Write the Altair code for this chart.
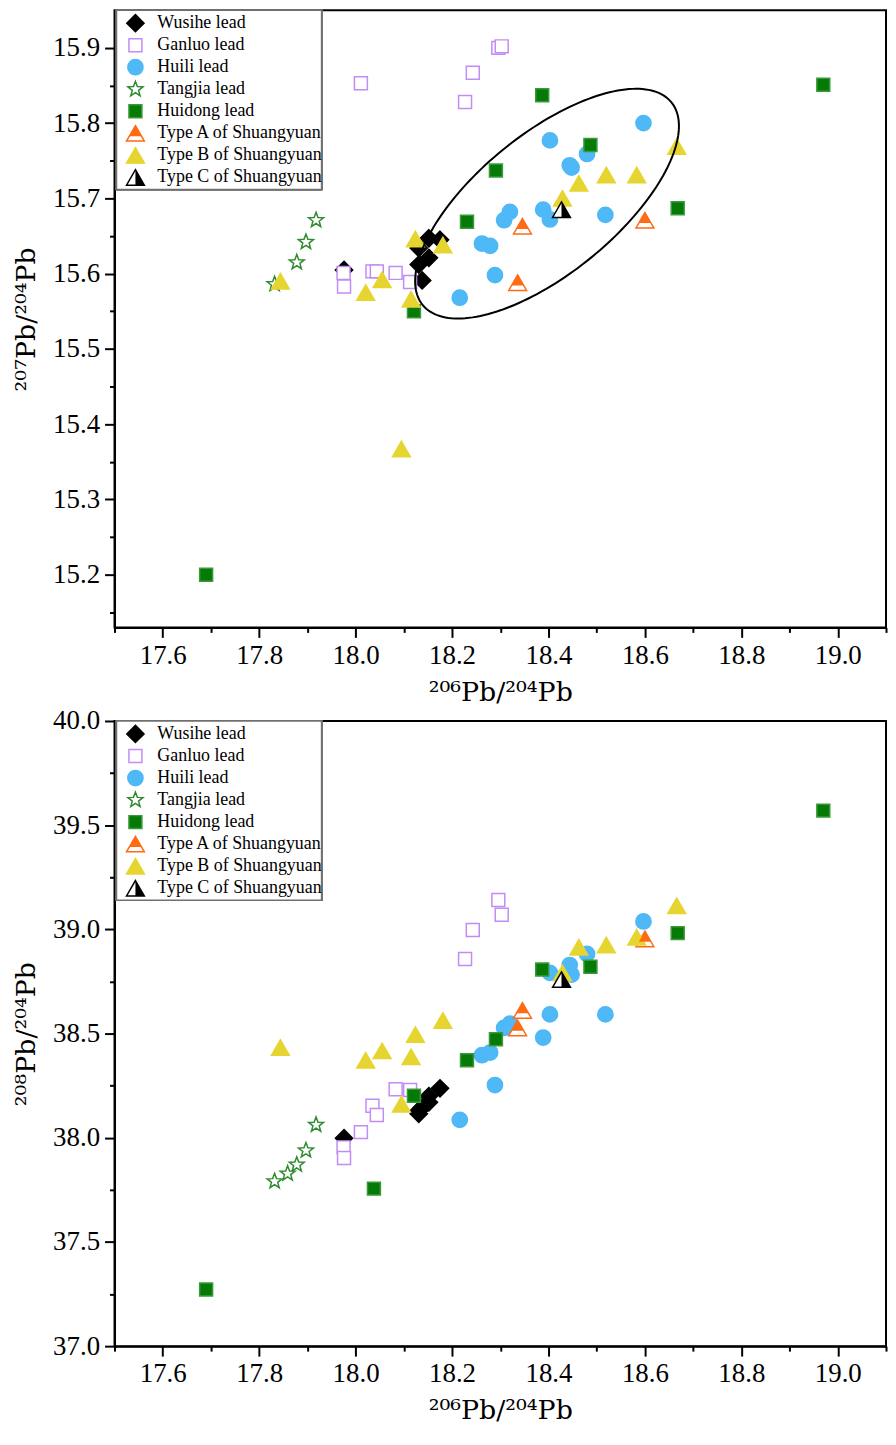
import math
import altair as alt
import pandas as pd

# ---------------- data ----------------
groups = ["Wusihe lead", "Ganluo lead", "Huili lead", "Tangjia lead", "Huidong lead",
          "Type A of Shuangyuan", "Type B of Shuangyuan", "Type C of Shuangyuan"]

wusihe_x = [18.152, 18.175, 18.131, 18.152, 18.131, 18.138, 17.976]
wusihe_207 = [15.647, 15.645, 15.634, 15.621, 15.612, 15.591, 15.605]
wusihe_208 = [38.200, 38.237, 38.115, 38.170, 38.130, 38.145, 37.998]

ganluo_x = [18.296, 18.303, 18.243, 18.227, 18.011, 17.975, 17.976, 18.035, 18.044, 18.083, 18.113]
ganluo_207 = [15.900, 15.902, 15.867, 15.828, 15.853, 15.601, 15.583, 15.603, 15.603, 15.601, 15.589]
ganluo_208 = [39.141, 39.070, 38.997, 38.858, 38.027, 37.954, 37.903, 38.154, 38.109, 38.233, 38.229]

huili_x = [18.597, 18.403, 18.480, 18.444, 18.448, 18.320, 18.308, 18.389, 18.403, 18.518, 18.262, 18.279, 18.289, 18.216]
huili_207 = [15.800, 15.777, 15.759, 15.744, 15.741, 15.682, 15.671, 15.685, 15.672, 15.678, 15.640, 15.637, 15.598, 15.568]
huili_208 = [39.038, 38.791, 38.882, 38.829, 38.783, 38.548, 38.527, 38.481, 38.592, 38.592, 38.396, 38.409, 38.253, 38.086]

tangjia_x = [17.918, 17.897, 17.878, 17.859, 17.832]
tangjia_207 = [15.671, 15.642, 15.615, None, 15.586]
tangjia_208 = [38.062, 37.939, 37.871, 37.828, 37.791]

huidong_x = [17.690, 18.038, 18.121, 18.231, 18.291, 18.387, 18.487, 18.668, 18.970]
huidong_207 = [15.200, None, 15.550, 15.669, 15.737, 15.837, 15.771, 15.687, 15.851]
huidong_208 = [37.272, 37.756, 38.202, 38.372, 38.473, 38.807, 38.821, 38.982, 39.570]

typeA_x = [18.346, 18.336, 18.600]
typeA_207 = [15.663, 15.588, 15.671]
typeA_208 = [38.611, 38.527, 38.954]

typeB_x = [18.666, 18.583, 18.520, 18.463, 18.429, 18.124, 18.181, 18.055, 18.021, 18.115, 17.844, 18.095]
typeB_207 = [15.769, 15.731, 15.731, 15.720, 15.700, 15.646, 15.638, 15.592, 15.575, 15.566, 15.590, 15.367]
typeB_208 = [39.113, 38.962, 38.925, 38.914, 38.791, 38.495, 38.563, 38.417, 38.372, 38.388, 38.433, 38.161]

typeC_x = [18.427]
typeC_207 = [15.685]
typeC_208 = [38.759]

series = [
    (wusihe_x, wusihe_207, wusihe_208),
    (ganluo_x, ganluo_207, ganluo_208),
    (huili_x, huili_207, huili_208),
    (tangjia_x, tangjia_207, tangjia_208),
    (huidong_x, huidong_207, huidong_208),
    (typeA_x, typeA_207, typeA_208),
    (typeB_x, typeB_207, typeB_208),
    (typeC_x, typeC_207, typeC_208),
]

x_ticks = [17.5, 17.6, 17.7, 17.8, 17.9, 18.0, 18.1, 18.2, 18.3, 18.4, 18.5, 18.6, 18.7, 18.8, 18.9, 19.0, 19.1]
y207_ticks = [15.15, 15.2, 15.25, 15.3, 15.35, 15.4, 15.45, 15.5, 15.55, 15.6, 15.65, 15.7, 15.75, 15.8, 15.85, 15.9]
y208_ticks = [37.0, 37.25, 37.5, 37.75, 38.0, 38.25, 38.5, 38.75, 39.0, 39.25, 39.5, 39.75, 40.0]

# ellipse outline (top panel): centre in data units, semi-axes in px, tilt
ell_cx, ell_cy = 18.397, 15.693
ell_a, ell_b, ell_theta = 161.5, 70.2, 39.4
ell_sx, ell_sy = 484.4, 760.0   # px per data unit used for the ellipse geometry

# ---------------- symbols ----------------
DIAMOND = "M0,-1L1,0L0,1L-1,0Z"
SQUARE = "M-1,-1L1,-1L1,1L-1,1Z"
TRI = "M0,-0.866L1,0.866L-1,0.866Z"
TRI_TOP = "M0,-0.866L0.68,0.31L-0.68,0.31Z"
TRI_RIGHT = "M0,-0.866L1,0.866L0,0.866Z"
_pts = []
for k in range(10):
    ang = math.radians(-90 + 36 * k)
    r = 1.0 if k % 2 == 0 else 0.42
    _pts.append(f"{r*math.cos(ang):.3f},{r*math.sin(ang):.3f}")
STAR = "M" + "L".join(_pts) + "Z"

style = {
    "Wusihe lead": dict(shape=DIAMOND, fill="#000000", stroke="#000000", size=300),
    "Ganluo lead": dict(shape=SQUARE, fill="#ffffff", stroke="#c28cf6", size=169),
    "Huili lead": dict(shape="circle", fill="#4fb8f6", stroke="#4fb8f6", size=235),
    "Tangjia lead": dict(shape=STAR, fill="#ffffff", stroke="#2e8a2e", size=250),
    "Huidong lead": dict(shape=SQUARE, fill="#067a06", stroke="#3a9a3a", size=169),
    "Type A of Shuangyuan": dict(shape=TRI, fill="#ffffff", stroke="#ff6a12", size=320),
    "Type B of Shuangyuan": dict(shape=TRI, fill="#e6d530", stroke="#e6d530", size=320),
    "Type C of Shuangyuan": dict(shape=TRI, fill="#ffffff", stroke="#000000", size=320),
}
overlay = {
    "Type A of Shuangyuan": dict(shape=TRI_TOP, fill="#ff6a12", size=320),
    "Type C of Shuangyuan": dict(shape=TRI_RIGHT, fill="#000000", size=320),
}

FONT = "Liberation Serif"
TFONT = "DejaVu Serif"


def make_df(which):
    rows = []
    for g, s in zip(groups, series):
        xs, ys = s[0], s[which]
        for xv, yv in zip(xs, ys):
            if yv is not None:
                rows.append({"group": g, "x": xv, "y": yv})
    return pd.DataFrame(rows)


legend_df = pd.DataFrame({"group": groups})


def panel(which, ytitle, ydomain, yvals, major_y, height, with_ellipse):
    df = make_df(which)
    X = alt.X("x:Q", scale=alt.Scale(domain=[17.5, 19.1], nice=False, zero=False),
              axis=alt.Axis(values=x_ticks, title="²⁰⁶Pb/²⁰⁴Pb",
                            labelExpr="round(datum.value*10) % 2 == 0 ? format(datum.value, '.1f') : ''",
                            tickSize={"condition": {"test": "round(datum.value*10) % 2 == 0", "value": 10}, "value": 5},
                            labelFlush=False, labelOverlap=False, labelPadding=5, titlePadding=11))
    Y = alt.Y("y:Q", scale=alt.Scale(domain=ydomain, nice=False, zero=False),
              axis=alt.Axis(values=yvals, title=ytitle,
                            labelExpr=f"round(datum.value*100) % {major_y} == 0 ? format(datum.value, '.1f') : ''",
                            tickSize={"condition": {"test": f"round(datum.value*100) % {major_y} == 0", "value": 10}, "value": 5},
                            labelFlush=False, labelOverlap=False, labelPadding=5,
                            minExtent=64, maxExtent=64, titlePadding=10))
    layers = []
    for g in groups:
        st = style[g]
        layers.append(
            alt.Chart(df).transform_filter(alt.datum.group == g)
            .mark_point(shape=st["shape"], fill=st["fill"], stroke=st["stroke"], size=st["size"],
                        opacity=1, fillOpacity=1, strokeWidth=1.5)
            .encode(x=X, y=Y)
        )
    for g, ov in overlay.items():
        layers.append(
            alt.Chart(df).transform_filter(alt.datum.group == g)
            .mark_point(shape=ov["shape"], fill=ov["fill"], size=ov["size"], opacity=1,
                        fillOpacity=1, strokeWidth=0)
            .encode(x=X, y=Y)
        )
    if with_ellipse:
        th = math.radians(ell_theta)
        er = []
        for i in range(181):
            t = 2 * math.pi * i / 180
            dx = ell_a * math.cos(t) * math.cos(th) - ell_b * math.sin(t) * math.sin(th)
            dy = ell_a * math.cos(t) * math.sin(th) + ell_b * math.sin(t) * math.cos(th)
            er.append({"x": ell_cx + dx / ell_sx, "y": ell_cy + dy / ell_sy, "t": i})
        layers.append(
            alt.Chart(pd.DataFrame(er)).mark_line(color="black", strokeWidth=2)
            .encode(x=X, y=Y, order="t:Q")
        )
    main = alt.layer(*layers)

    LY = alt.Y("group:N", scale=alt.Scale(domain=groups, range=[13, 168], padding=0), axis=None)
    leg = [
        alt.Chart(legend_df).mark_rect(fill="white", stroke="#707070", strokeWidth=1.5)
        .encode(x=alt.value(2), x2=alt.value(208), y=alt.value(0), y2=alt.value(180))
    ]
    for g in groups:
        st = style[g]
        leg.append(
            alt.Chart(legend_df).transform_filter(alt.datum.group == g)
            .mark_point(shape=st["shape"], fill=st["fill"], stroke=st["stroke"], size=st["size"],
                        opacity=1, fillOpacity=1, strokeWidth=1.5)
            .encode(x=alt.value(21), y=LY)
        )
    for g, ov in overlay.items():
        leg.append(
            alt.Chart(legend_df).transform_filter(alt.datum.group == g)
            .mark_point(shape=ov["shape"], fill=ov["fill"], size=ov["size"], opacity=1,
                        fillOpacity=1, strokeWidth=0)
            .encode(x=alt.value(21), y=LY)
        )
    leg.append(
        alt.Chart(legend_df).mark_text(align="left", baseline="middle", font=FONT,
                                       fontSize=18, color="black")
        .encode(x=alt.value(43), y=LY, text="group:N")
    )
    legend = alt.layer(*leg)
    return alt.layer(main, legend).resolve_scale(y="independent").properties(width=775, height=height)


top = panel(1, "²⁰⁷Pb/²⁰⁴Pb", [15.13, 15.95], y207_ticks, 10, 620, True)
bottom = panel(2, "²⁰⁸Pb/²⁰⁴Pb", [37.0, 40.0], y208_ticks, 50, 628, False)

chart = (
    alt.vconcat(top, bottom, spacing=94, bounds="flush")
    .properties(padding={"left": 4, "top": -3, "right": 0, "bottom": 0})
    .configure_view(stroke="black", strokeWidth=2, fill="white")
    .configure_axis(domainColor="black", domainWidth=2, tickColor="black", tickWidth=2,
                    labelFont=FONT, labelFontSize=27, labelColor="black",
                    titleFont=TFONT, titleFontSize=27, titleFontWeight="normal", titleColor="black",
                    grid=False)
)

chart.save("out.html", embed_options={"renderer": "svg", "actions": False})
